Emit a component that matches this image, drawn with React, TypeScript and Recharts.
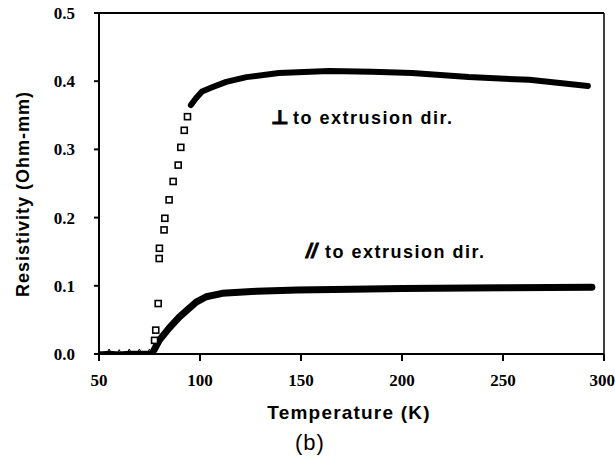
import React from 'react';
import { ComposedChart, Scatter, XAxis, YAxis, ReferenceLine } from 'recharts';

const xTicks = [50, 100, 150, 200, 250, 300];
const yTicks = [0, 0.1, 0.2, 0.3, 0.4, 0.5];

// perpendicular to extrusion direction: sparse points through the transition
const perpTransitionT = [77.5, 78.1, 79.3, 79.8, 79.9, 82.2, 82.6, 84.7, 86.7, 89.2, 90.5, 92.2, 93.8];
const perpTransitionR = [0.02, 0.035, 0.074, 0.14, 0.155, 0.182, 0.199, 0.226, 0.253, 0.277, 0.303, 0.328, 0.348];

// perpendicular: dense measurement curve
const perpCurveT = [95.5, 98, 101, 106, 113, 123, 139, 164, 185, 205, 233, 263, 292];
const perpCurveR = [0.365, 0.375, 0.385, 0.391, 0.399, 0.406, 0.412, 0.415, 0.414, 0.412, 0.406, 0.402, 0.393];

// superconducting baseline (both directions)
const baseT = [50, 55, 60, 65, 70, 75, 77];
const baseR = [0.002, 0.003, 0.002, 0.003, 0.003, 0.003, 0.004];

// parallel to extrusion direction
const paraCurveT = [77.3, 79.8, 84.7, 89.7, 94.6, 98.1, 103.1, 111, 128, 148, 175, 200, 250, 294];
const paraCurveR = [0.006, 0.02, 0.038, 0.054, 0.067, 0.076, 0.084, 0.089, 0.092, 0.094, 0.095, 0.096, 0.097, 0.098];

const zip = (ts: number[], rs: number[]) => ts.map((t, i) => ({ t, r: rs[i] }));

const perpTransition = zip(perpTransitionT, perpTransitionR);
const perpCurve = zip(perpCurveT, perpCurveR);
const base = zip(baseT, baseR);
const paraCurve = zip(paraCurveT, paraCurveR);

const Square = (p: any) => (
  <rect x={p.cx - 3} y={p.cy - 3} width={6} height={6} fill="#fff" stroke="#000" strokeWidth={1.6} />
);
const Nothing = () => <g />;
const Tri = (p: any) => (
  <path d={`M${p.cx - 2},${p.cy + 1} L${p.cx},${p.cy - 3} L${p.cx + 2},${p.cy + 1} Z`} fill="none" stroke="#000" strokeWidth={1} />
);

const sans = '"Liberation Sans", Arial, Helvetica, sans-serif';
const serif = '"Liberation Serif", "Times New Roman", serif';

export default function App() {
  return (
    <div style={{ position: 'absolute', left: 0, top: 0, width: 615, height: 458, background: '#fff' }}>
      <ComposedChart width={615} height={458} margin={{ top: 13, right: 11, bottom: 74, left: 0 }}>
        <XAxis
          dataKey="t"
          type="number"
          domain={[50, 300]}
          ticks={xTicks}
          allowDataOverflow
          height={30}
          tickSize={7}
          tickMargin={13}
          axisLine={{ stroke: '#000', strokeWidth: 2 }}
          tickLine={{ stroke: '#000', strokeWidth: 2 }}
          tick={{ fill: '#000', fontFamily: serif, fontWeight: 700, fontSize: 17 }}
        />
        <YAxis
          dataKey="r"
          type="number"
          domain={[0, 0.5]}
          ticks={yTicks}
          allowDataOverflow
          width={99}
          tickSize={5}
          tickMargin={19}
          tickFormatter={(v: number) => v.toFixed(1)}
          axisLine={{ stroke: '#000', strokeWidth: 2 }}
          tickLine={{ stroke: '#000', strokeWidth: 2 }}
          tick={{ fill: '#000', fontFamily: serif, fontWeight: 700, fontSize: 17 }}
        />
        <ReferenceLine y={0.5} stroke="#000" strokeWidth={2} />
        <ReferenceLine x={300} stroke="#000" strokeWidth={1.5} />
        <Scatter
          data={base}
          line={{ stroke: '#000', strokeWidth: 2.5 }}
          lineType="joint"
          shape={Tri}
          isAnimationActive={false}
        />
        <Scatter
          data={paraCurve}
          line={{ stroke: '#000', strokeWidth: 7, strokeLinecap: 'round', strokeLinejoin: 'round' }}
          lineType="joint"
          shape={Nothing}
          isAnimationActive={false}
        />
        <Scatter
          data={perpCurve}
          line={{ stroke: '#000', strokeWidth: 6, strokeLinecap: 'round', strokeLinejoin: 'round' }}
          lineType="joint"
          shape={Nothing}
          isAnimationActive={false}
        />
        <Scatter data={perpTransition} shape={Square} isAnimationActive={false} />
      </ComposedChart>
      <svg
        width={615}
        height={458}
        style={{ position: 'absolute', left: 0, top: 0, pointerEvents: 'none' }}
      >
        <text
          transform="translate(23,194) rotate(-90)"
          textAnchor="middle"
          dominantBaseline="central"
          fontFamily={sans}
          fontWeight={700}
          fontSize={18}
          letterSpacing={1}
          fill="#000"
        >
          Resistivity (Ohm-mm)
        </text>
        <text
          x={349}
          y={412}
          textAnchor="middle"
          dominantBaseline="central"
          fontFamily={sans}
          fontWeight={700}
          fontSize={19}
          letterSpacing={1.2}
          fill="#000"
        >
          Temperature (K)
        </text>
        <text
          x={310}
          y={442}
          textAnchor="middle"
          dominantBaseline="central"
          fontFamily={sans}
          fontSize={22}
          letterSpacing={1}
          fill="#000"
        >
          (b)
        </text>
        <text
          x={271}
          y={124}
          fontFamily='"DejaVu Sans", sans-serif'
          fontWeight={700}
          fontSize={19}
          fill="#000"
          stroke="#000"
          strokeWidth={1.2}
        >
          ⊥
        </text>
        <text x={293} y={124} fontFamily={sans} fontWeight={700} fontSize={18} letterSpacing={1.5} fill="#000">
          to extrusion dir.
        </text>
        <text x={306} y={258} fontFamily={sans} fontWeight={700} fontStyle="italic" fontSize={20} fill="#000" stroke="#000" strokeWidth={0.8}>
          //
        </text>
        <text x={325} y={258} fontFamily={sans} fontWeight={700} fontSize={18} letterSpacing={1.5} fill="#000">
          to extrusion dir.
        </text>
      </svg>
    </div>
  );
}
